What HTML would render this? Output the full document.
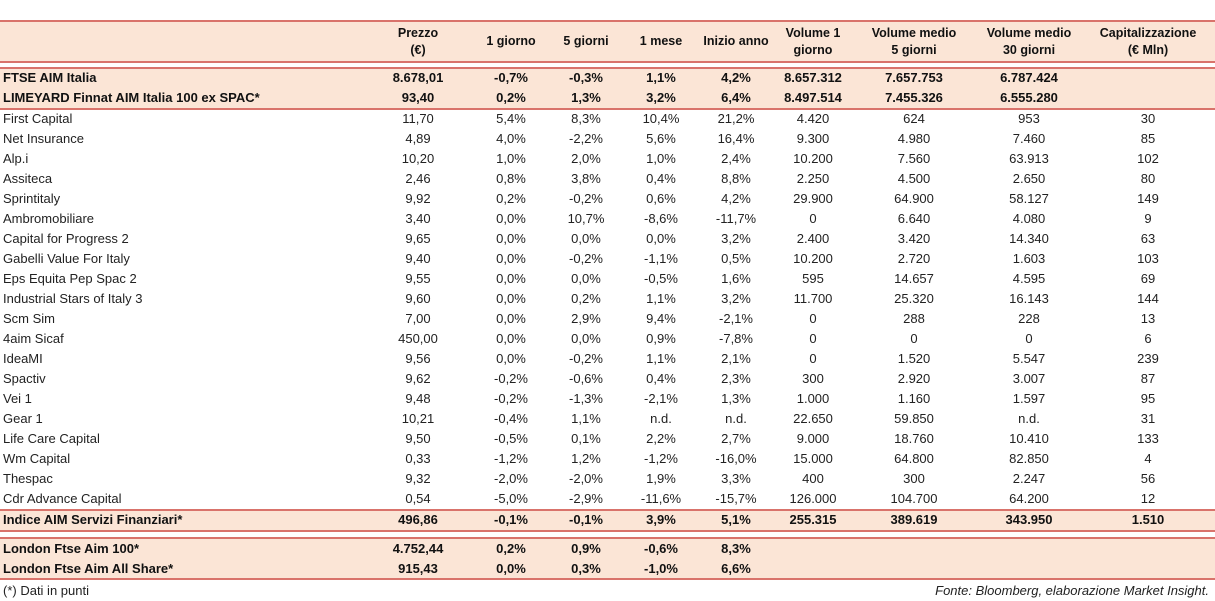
<!DOCTYPE html>
<html><head><meta charset="utf-8"><style>
body{margin:0;width:1215px;height:601px;background:#fff;font-family:"Liberation Sans",sans-serif;position:relative;overflow:hidden;color:#222}
.band{position:absolute;left:0;width:1215px;background:#fbe5d6}
.ln{position:absolute;left:0;width:1215px;height:2px;background:#d9736b}
.row{position:absolute;left:0;width:1215px;height:20px;line-height:20px;font-size:13px}
.row span{position:absolute;top:0;white-space:nowrap}
.c{transform:translateX(-50%)}
.b{font-weight:bold;color:#111}
.hd{position:absolute;font-size:12.5px;font-weight:bold;text-align:center;line-height:17px;transform:translateX(-50%);white-space:nowrap;color:#111}
.ft{position:absolute;font-size:13px;top:581px;line-height:20px}
</style></head><body>
<div class="band" style="top:21px;height:41px"></div>
<div class="band" style="top:68px;height:40px"></div>
<div class="band" style="top:511px;height:20px"></div>
<div class="band" style="top:539px;height:40px"></div>
<div class="ln" style="top:20px"></div>
<div class="ln" style="top:61px"></div>
<div class="ln" style="top:67px"></div>
<div class="ln" style="top:108px"></div>
<div class="ln" style="top:509px"></div>
<div class="ln" style="top:530px"></div>
<div class="ln" style="top:537px"></div>
<div class="ln" style="top:578px"></div>
<div id="hdr"></div>
<div id="rows"></div>
<div class="ft" style="left:3px">(*) Dati in punti</div>
<div class="ft" style="right:6px;font-style:italic">Fonte: Bloomberg, elaborazione Market Insight.</div>
<script>
const colX=[418,511,586,661,736,813,914,1029,1148];
const headers=["Prezzo<br>(€)","1 giorno","5 giorni","1 mese","Inizio anno","Volume 1<br>giorno","Volume medio<br>5 giorni","Volume medio<br>30 giorni","Capitalizzazione<br>(€ Mln)"];
const rows=[
["FTSE AIM Italia","8.678,01","-0,7%","-0,3%","1,1%","4,2%","8.657.312","7.657.753","6.787.424","",1,78],
["LIMEYARD Finnat AIM Italia 100 ex SPAC*","93,40","0,2%","1,3%","3,2%","6,4%","8.497.514","7.455.326","6.555.280","",1,98],
["First Capital","11,70","5,4%","8,3%","10,4%","21,2%","4.420","624","953","30"],
["Net Insurance","4,89","4,0%","-2,2%","5,6%","16,4%","9.300","4.980","7.460","85"],
["Alp.i","10,20","1,0%","2,0%","1,0%","2,4%","10.200","7.560","63.913","102"],
["Assiteca","2,46","0,8%","3,8%","0,4%","8,8%","2.250","4.500","2.650","80"],
["Sprintitaly","9,92","0,2%","-0,2%","0,6%","4,2%","29.900","64.900","58.127","149"],
["Ambromobiliare","3,40","0,0%","10,7%","-8,6%","-11,7%","0","6.640","4.080","9"],
["Capital for Progress 2","9,65","0,0%","0,0%","0,0%","3,2%","2.400","3.420","14.340","63"],
["Gabelli Value For Italy","9,40","0,0%","-0,2%","-1,1%","0,5%","10.200","2.720","1.603","103"],
["Eps Equita Pep Spac 2","9,55","0,0%","0,0%","-0,5%","1,6%","595","14.657","4.595","69"],
["Industrial Stars of Italy 3","9,60","0,0%","0,2%","1,1%","3,2%","11.700","25.320","16.143","144"],
["Scm Sim","7,00","0,0%","2,9%","9,4%","-2,1%","0","288","228","13"],
["4aim Sicaf","450,00","0,0%","0,0%","0,9%","-7,8%","0","0","0","6"],
["IdeaMI","9,56","0,0%","-0,2%","1,1%","2,1%","0","1.520","5.547","239"],
["Spactiv","9,62","-0,2%","-0,6%","0,4%","2,3%","300","2.920","3.007","87"],
["Vei 1","9,48","-0,2%","-1,3%","-2,1%","1,3%","1.000","1.160","1.597","95"],
["Gear 1","10,21","-0,4%","1,1%","n.d.","n.d.","22.650","59.850","n.d.","31"],
["Life Care Capital","9,50","-0,5%","0,1%","2,2%","2,7%","9.000","18.760","10.410","133"],
["Wm Capital","0,33","-1,2%","1,2%","-1,2%","-16,0%","15.000","64.800","82.850","4"],
["Thespac","9,32","-2,0%","-2,0%","1,9%","3,3%","400","300","2.247","56"],
["Cdr Advance Capital","0,54","-5,0%","-2,9%","-11,6%","-15,7%","126.000","104.700","64.200","12"],
["Indice AIM Servizi Finanziari*","496,86","-0,1%","-0,1%","3,9%","5,1%","255.315","389.619","343.950","1.510",1,520],
["London Ftse Aim 100*","4.752,44","0,2%","0,9%","-0,6%","8,3%","","","","",1,549],
["London Ftse Aim All Share*","915,43","0,0%","0,3%","-1,0%","6,6%","","","","",1,569]
];
const hdr=document.getElementById('hdr');
headers.forEach((h,i)=>{const d=document.createElement('div');d.className='hd';


const two=h.includes('<br>');d.style.left=colX[i]+'px';d.style.top=(two?25:33)+'px';d.innerHTML=h;hdr.appendChild(d);});
const rc=document.getElementById('rows');
rows.forEach((r,k)=>{const d=document.createElement('div');d.className='row'+(r[10]?' b':'');


const cy=r[11]||(119+(k-2)*20);d.style.top=(cy-10)+'px';
let s='<span style="left:3px">'+r[0]+'</span>';
for(let i=1;i<=9;i++)s+='<span class="c" style="left:'+colX[i-1]+'px">'+r[i]+'</span>';
d.innerHTML=s;rc.appendChild(d);});
</script>
</body></html>
